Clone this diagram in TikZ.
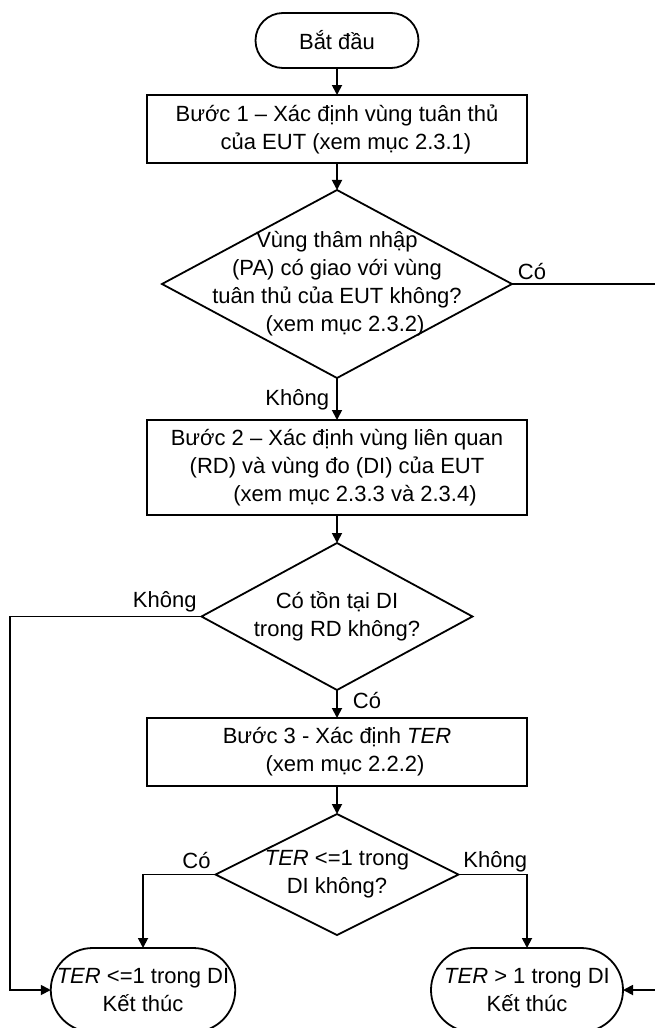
\documentclass[tikz,border=0pt]{standalone}
\usepackage{fontspec}
\setmainfont{Liberation Sans}
\usetikzlibrary{positioning, shapes.geometric, shapes.misc, arrows.meta}

\begin{document}
\begin{tikzpicture}[x=1pt, y=-1pt, line width=1.8pt, font=\fontsize{22}{28}\selectfont,
    term/.style={draw, rounded rectangle, minimum width=163pt, minimum height=55pt, inner sep=0pt, outer sep=0pt, align=center},
    stepbox/.style={draw, rectangle, minimum width=380pt, inner sep=0pt, outer sep=0pt, align=center},
    dec/.style={draw, diamond, inner sep=0pt, outer sep=0pt},
    arr/.style={-{Triangle[length=10pt, width=10pt]}},
    lbl/.style={inner sep=1pt}]
        \useasboundingbox (0,0) rectangle (655,1028);

        \node[term] (start) at (337,40.5) {Bắt đầu};
        \node[stepbox, minimum height=68pt] (b1) [below=27pt of start] {Bước 1 – Xác định vùng tuân thủ\\\hspace*{18pt}của EUT (xem mục 2.3.1)};
        \node[dec, minimum width=350pt, minimum height=188pt] (d1) [below=27pt of b1] {};
        \node[align=center] (d1t) at (d1) {Vùng thâm nhập\\(PA) có giao với vùng\\tuân thủ của EUT không?\\\hspace*{16pt}(xem mục 2.3.2)};
        \node[stepbox, minimum height=95pt] (b2) [below=42pt of d1] {Bước 2 – Xác định vùng liên quan\\(RD) và vùng đo (DI) của EUT\\\hspace*{36pt}(xem mục 2.3.3 và 2.3.4)};
        \node[dec, minimum width=271pt, minimum height=147pt] (d2) [below=28pt of b2] {};
        \node[align=center] (d2t) at (d2) {Có tồn tại DI\\trong RD không?};
        \node[stepbox, minimum height=68pt] (b3) [below=28pt of d2] {Bước 3 - Xác định \textit{TER}\\\hspace*{16pt}(xem mục 2.2.2)};
        \node[dec, minimum width=243pt, minimum height=121pt] (d3) [below=28pt of b3] {};
        \node[align=center] (d3t) at (d3) {\textit{TER} <=1 trong\\DI không?};
        \node[term, minimum width=183pt, minimum height=84pt] (t1) at (143,990) {\textit{TER} <=1 trong DI\\Kết thúc};
        \node[term, minimum width=192pt, minimum height=84pt] (t2) at (527,990) {\textit{TER} > 1 trong DI\\Kết thúc};

        \coordinate (lft) at (10,0);
        \coordinate (rgt) at (662,0);

        \draw[arr] (start) -- (b1);
        \draw[arr] (b1) -- (d1);
        \draw[arr] (d1) -- (b2);
        \draw[arr] (b2) -- (d2);
        \draw[arr] (d2) -- (b3);
        \draw[arr] (b3) -- (d3);
        \draw[arr] (d3.west) -| (t1);
        \draw[arr] (d3.east) -| (t2);
        \draw[arr] (d2.west) -- (d2.west -| lft) |- (t1);
        \draw[arr] (d1.east) -- (d1.east -| rgt) |- (t2);

        \node[lbl, anchor=base west] (c1) at ([xshift=4pt, yshift=5pt]d1.east) {Có};
        \node[lbl, anchor=base east] (k1) at ([xshift=-6pt, yshift=-27pt]d1.south) {Không};
        \node[lbl, anchor=base east] (k2) at ([xshift=-3pt, yshift=9pt]d2.west) {Không};
        \node[lbl, anchor=base west] (c2) at ([xshift=14pt, yshift=-18pt]d2.south) {Có};
        \node[lbl, anchor=base east] (c3) at ([xshift=-3pt, yshift=6pt]d3.west) {Có};
        \node[lbl, anchor=base west] (k3) at ([xshift=3pt, yshift=7pt]d3.east) {Không};
    \end{tikzpicture}
\end{document}
